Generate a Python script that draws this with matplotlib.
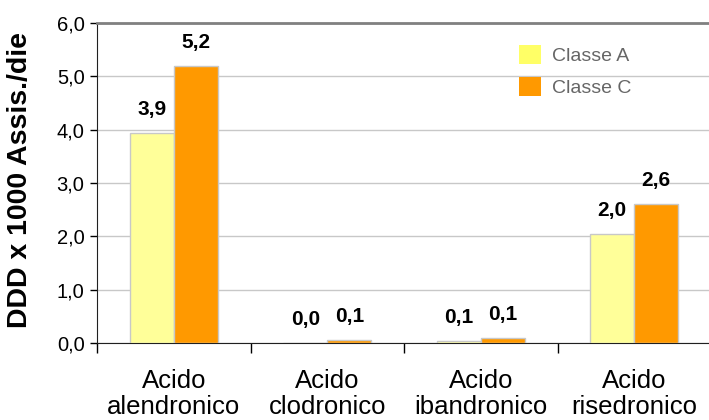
import matplotlib
matplotlib.use("Agg")
import matplotlib.pyplot as plt
from matplotlib.patches import Patch
import numpy as np

plt.rcParams['font.family'] = ['Liberation Sans', 'DejaVu Sans']

categories = ["Acido\nalendronico", "Acido\nclodronico", "Acido\nibandronico", "Acido\nrisedronico"]
series_names = ["Classe A", "Classe C"]
classe_a = [3.94, 0.004, 0.04, 2.04]
classe_c = [5.20, 0.05, 0.085, 2.61]
labels_a = ["3,9", "0,0", "0,1", "2,0"]
labels_c = ["5,2", "0,1", "0,1", "2,6"]
yticks = [0, 1, 2, 3, 4, 5, 6]
ytick_labels = ["0,0", "1,0", "2,0", "3,0", "4,0", "5,0", "6,0"]

bar_colors = ["#FFFF99", "#FF9900"]
legend_colors = ["#FFFF66", "#FF9900"]

fig = plt.figure(figsize=(7.09, 4.20), dpi=100)
ax = fig.add_axes([97/709, 1-343/420, (711-97)/709, (343-23)/420])

x = np.arange(len(categories))
w = 0.287
bars_a = ax.bar(x - w/2, classe_a, w, color=bar_colors[0], edgecolor="#C8C8C8", linewidth=1, zorder=3)
bars_c = ax.bar(x + w/2, classe_c, w, color=bar_colors[1], edgecolor="#C8C8C8", linewidth=1, zorder=3)

for bars, labs in ((bars_a, labels_a), (bars_c, labels_c)):
    for b, lab in zip(bars, labs):
        ax.annotate(lab, (b.get_x() + b.get_width()/2, b.get_height()),
                    xytext=(0, 17), textcoords="offset points",
                    ha="center", va="center", fontsize=15, fontweight="bold", color="black")

ax.set_xlim(-0.5, len(categories) - 0.5)
ax.set_ylim(0, 6)
ax.set_yticks(yticks)
ax.set_yticklabels(ytick_labels, fontsize=14.5)
ax.yaxis.grid(True, color="#C8C8C8", linewidth=1, zorder=0)
ax.set_axisbelow(True)

ax.set_xticks(x)
ax.set_xticklabels(categories, fontsize=18.5, linespacing=1.1)
ax.tick_params(axis="x", which="major", length=0, pad=19)
ax.set_xticks(np.arange(len(categories) + 1) - 0.5, minor=True)
ax.tick_params(axis="x", which="minor", length=7, width=1, color="black", direction="out")
ax.tick_params(axis="y", length=5, width=1, color="black", direction="out", pad=4)

ax.spines["right"].set_visible(False)
ax.spines["top"].set_color("#808080")
ax.spines["top"].set_linewidth(2)
ax.spines["left"].set_color("#202020")
ax.spines["bottom"].set_color("#202020")

ax.set_ylabel("DDD x 1000 Assis./die", fontsize=20.5, fontweight="bold")
ax.yaxis.set_label_coords(-(97 - 33) / (711 - 97), (343 - 180) / (343 - 23))

handles = [Patch(facecolor=c, edgecolor="none") for c in legend_colors]
leg = fig.legend(handles, series_names, loc="upper left",
                 bbox_to_anchor=(519/709, 1-45/420), frameon=False,
                 fontsize=14, handlelength=1.13, handleheight=1.13,
                 handletextpad=0.55, labelspacing=0.62, borderpad=0, borderaxespad=0)
for t in leg.get_texts():
    t.set_color("#666666")

fig.savefig("out.png", dpi=100)
